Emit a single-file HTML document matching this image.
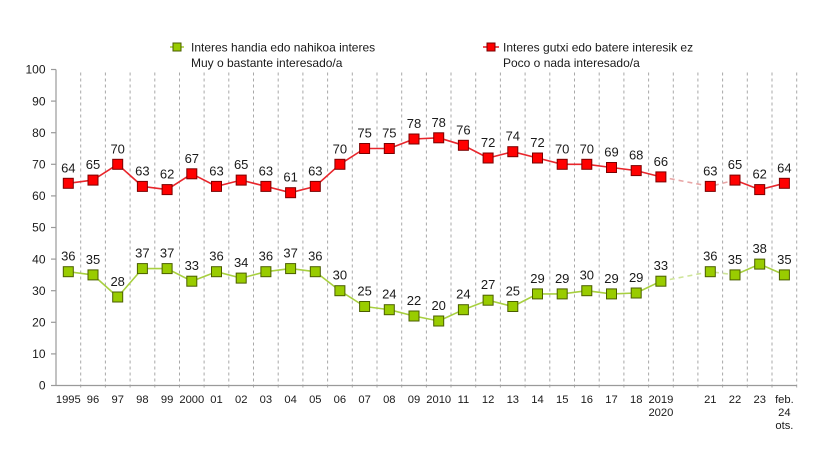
<!DOCTYPE html>
<html>
<head>
<meta charset="utf-8">
<style>
html,body{margin:0;padding:0;background:#fff;}
svg{display:block;font-family:"Liberation Sans",Arial,sans-serif;}
</style>
</head>
<body>
<svg width="839" height="464" viewBox="0 0 839 464" xmlns="http://www.w3.org/2000/svg">
<rect width="839" height="464" fill="#fff"/>

<!-- vertical dashed grid lines -->
<g stroke="#a8a8a8" stroke-width="1" stroke-dasharray="3,3">
<line x1="80.7" y1="72.5" x2="80.7" y2="390"/>
<line x1="105.4" y1="72.5" x2="105.4" y2="390"/>
<line x1="130.1" y1="72.5" x2="130.1" y2="390"/>
<line x1="154.8" y1="72.5" x2="154.8" y2="390"/>
<line x1="179.5" y1="72.5" x2="179.5" y2="390"/>
<line x1="204.1" y1="72.5" x2="204.1" y2="390"/>
<line x1="228.8" y1="72.5" x2="228.8" y2="390"/>
<line x1="253.5" y1="72.5" x2="253.5" y2="390"/>
<line x1="278.2" y1="72.5" x2="278.2" y2="390"/>
<line x1="302.9" y1="72.5" x2="302.9" y2="390"/>
<line x1="327.6" y1="72.5" x2="327.6" y2="390"/>
<line x1="352.3" y1="72.5" x2="352.3" y2="390"/>
<line x1="377.0" y1="72.5" x2="377.0" y2="390"/>
<line x1="401.7" y1="72.5" x2="401.7" y2="390"/>
<line x1="426.4" y1="72.5" x2="426.4" y2="390"/>
<line x1="451.0" y1="72.5" x2="451.0" y2="390"/>
<line x1="475.7" y1="72.5" x2="475.7" y2="390"/>
<line x1="500.4" y1="72.5" x2="500.4" y2="390"/>
<line x1="525.1" y1="72.5" x2="525.1" y2="390"/>
<line x1="549.8" y1="72.5" x2="549.8" y2="390"/>
<line x1="574.5" y1="72.5" x2="574.5" y2="390"/>
<line x1="599.2" y1="72.5" x2="599.2" y2="390"/>
<line x1="623.9" y1="72.5" x2="623.9" y2="390"/>
<line x1="648.6" y1="72.5" x2="648.6" y2="390"/>
<line x1="673.3" y1="72.5" x2="673.3" y2="390"/>
<line x1="697.9" y1="72.5" x2="697.9" y2="390"/>
<line x1="722.6" y1="72.5" x2="722.6" y2="390"/>
<line x1="747.3" y1="72.5" x2="747.3" y2="390"/>
<line x1="772.0" y1="72.5" x2="772.0" y2="390"/>
<line x1="796.7" y1="72.5" x2="796.7" y2="390"/>
</g>

<!-- axes -->
<g stroke="#9a9a9a" stroke-width="1.2" fill="none">
<line x1="56" y1="69.5" x2="56" y2="385.5"/>
<line x1="56" y1="385.5" x2="797" y2="385.5"/>
<line x1="51" y1="69.5" x2="56" y2="69.5"/>
<line x1="51" y1="101.1" x2="56" y2="101.1"/>
<line x1="51" y1="132.7" x2="56" y2="132.7"/>
<line x1="51" y1="164.3" x2="56" y2="164.3"/>
<line x1="51" y1="195.9" x2="56" y2="195.9"/>
<line x1="51" y1="227.5" x2="56" y2="227.5"/>
<line x1="51" y1="259.1" x2="56" y2="259.1"/>
<line x1="51" y1="290.7" x2="56" y2="290.7"/>
<line x1="51" y1="322.3" x2="56" y2="322.3"/>
<line x1="51" y1="353.9" x2="56" y2="353.9"/>
<line x1="51" y1="385.5" x2="56" y2="385.5"/>
</g>

<!-- y labels -->
<g font-size="12" fill="#1a1a1a" text-anchor="end">
<text x="45.5" y="73.7">100</text>
<text x="45.5" y="105.3">90</text>
<text x="45.5" y="136.9">80</text>
<text x="45.5" y="168.5">70</text>
<text x="45.5" y="200.1">60</text>
<text x="45.5" y="231.7">50</text>
<text x="45.5" y="263.3">40</text>
<text x="45.5" y="294.9">30</text>
<text x="45.5" y="326.5">20</text>
<text x="45.5" y="358.1">10</text>
<text x="45.5" y="389.7">0</text>
</g>

<!-- x labels -->
<g font-size="11.2" fill="#1a1a1a" text-anchor="middle">
<text x="68.3" y="403">1995</text>
<text x="93.0" y="403">96</text>
<text x="117.7" y="403">97</text>
<text x="142.4" y="403">98</text>
<text x="167.1" y="403">99</text>
<text x="191.8" y="403">2000</text>
<text x="216.5" y="403">01</text>
<text x="241.2" y="403">02</text>
<text x="265.9" y="403">03</text>
<text x="290.6" y="403">04</text>
<text x="315.3" y="403">05</text>
<text x="339.9" y="403">06</text>
<text x="364.6" y="403">07</text>
<text x="389.3" y="403">08</text>
<text x="414.0" y="403">09</text>
<text x="438.7" y="403">2010</text>
<text x="463.4" y="403">11</text>
<text x="488.1" y="403">12</text>
<text x="512.8" y="403">13</text>
<text x="537.5" y="403">14</text>
<text x="562.2" y="403">15</text>
<text x="586.8" y="403">16</text>
<text x="611.5" y="403">17</text>
<text x="636.2" y="403">18</text>
<text x="660.9" y="403">2019</text>
<text x="660.9" y="416">2020</text>
<text x="710.3" y="403">21</text>
<text x="735.0" y="403">22</text>
<text x="759.7" y="403">23</text>
<text x="784.4" y="403">feb.</text>
<text x="784.4" y="416">24</text>
<text x="784.4" y="429">ots.</text>
</g>

<!-- red series -->
<polyline fill="none" stroke="#e8262c" stroke-width="1.6" stroke-linejoin="round"
points="68.3,183.3 93.0,180.1 117.7,164.3 142.4,186.4 167.1,189.6 191.8,173.8 216.5,186.4 241.2,180.1 265.9,186.4 290.6,192.7 315.3,186.4 339.9,164.3 364.6,148.5 389.3,148.5 414.0,139.0 438.7,137.8 463.4,145.3 488.1,158.0 512.8,151.7 537.5,158.0 562.2,164.3 586.8,164.3 611.5,167.5 636.2,170.6 660.9,176.9"/>
<polyline fill="none" stroke="#e8a6a6" stroke-width="1.6" stroke-dasharray="5,4"
points="660.9,176.9 710.3,186.4 735.0,180.1"/>
<polyline fill="none" stroke="#e8262c" stroke-width="1.6" stroke-linejoin="round"
points="735.0,180.1 759.7,189.6 784.4,183.3"/>

<!-- green series -->
<polyline fill="none" stroke="#a8d040" stroke-width="1.6" stroke-linejoin="round"
points="68.3,271.7 93.0,274.9 117.7,297.0 142.4,268.6 167.1,268.6 191.8,281.2 216.5,271.7 241.2,278.1 265.9,271.7 290.6,268.6 315.3,271.7 339.9,290.7 364.6,306.5 389.3,309.7 414.0,316.0 438.7,321.0 463.4,309.7 488.1,300.2 512.8,306.5 537.5,293.9 562.2,293.9 586.8,290.7 611.5,293.9 636.2,293.0 660.9,281.2"/>
<polyline fill="none" stroke="#cfe59a" stroke-width="1.6" stroke-dasharray="5,4"
points="660.9,281.2 710.3,271.7 735.0,274.9"/>
<polyline fill="none" stroke="#a8d040" stroke-width="1.6" stroke-linejoin="round"
points="735.0,274.9 759.7,264.1 784.4,274.9"/>

<!-- red markers -->
<g fill="#ff0000" stroke="#7a0000" stroke-width="1">
<rect x="63.3" y="178.3" width="10" height="10"/>
<rect x="88.0" y="175.1" width="10" height="10"/>
<rect x="112.7" y="159.3" width="10" height="10"/>
<rect x="137.4" y="181.4" width="10" height="10"/>
<rect x="162.1" y="184.6" width="10" height="10"/>
<rect x="186.8" y="168.8" width="10" height="10"/>
<rect x="211.5" y="181.4" width="10" height="10"/>
<rect x="236.2" y="175.1" width="10" height="10"/>
<rect x="260.9" y="181.4" width="10" height="10"/>
<rect x="285.6" y="187.7" width="10" height="10"/>
<rect x="310.3" y="181.4" width="10" height="10"/>
<rect x="334.9" y="159.3" width="10" height="10"/>
<rect x="359.6" y="143.5" width="10" height="10"/>
<rect x="384.3" y="143.5" width="10" height="10"/>
<rect x="409.0" y="134.0" width="10" height="10"/>
<rect x="433.7" y="132.8" width="10" height="10"/>
<rect x="458.4" y="140.3" width="10" height="10"/>
<rect x="483.1" y="153.0" width="10" height="10"/>
<rect x="507.8" y="146.7" width="10" height="10"/>
<rect x="532.5" y="153.0" width="10" height="10"/>
<rect x="557.2" y="159.3" width="10" height="10"/>
<rect x="581.8" y="159.3" width="10" height="10"/>
<rect x="606.5" y="162.5" width="10" height="10"/>
<rect x="631.2" y="165.6" width="10" height="10"/>
<rect x="655.9" y="171.9" width="10" height="10"/>
<rect x="705.3" y="181.4" width="10" height="10"/>
<rect x="730.0" y="175.1" width="10" height="10"/>
<rect x="754.7" y="184.6" width="10" height="10"/>
<rect x="779.4" y="178.3" width="10" height="10"/>
</g>

<!-- green markers -->
<g fill="#99cc00" stroke="#4a5e00" stroke-width="1">
<rect x="63.3" y="266.7" width="10" height="10"/>
<rect x="88.0" y="269.9" width="10" height="10"/>
<rect x="112.7" y="292.0" width="10" height="10"/>
<rect x="137.4" y="263.6" width="10" height="10"/>
<rect x="162.1" y="263.6" width="10" height="10"/>
<rect x="186.8" y="276.2" width="10" height="10"/>
<rect x="211.5" y="266.7" width="10" height="10"/>
<rect x="236.2" y="273.1" width="10" height="10"/>
<rect x="260.9" y="266.7" width="10" height="10"/>
<rect x="285.6" y="263.6" width="10" height="10"/>
<rect x="310.3" y="266.7" width="10" height="10"/>
<rect x="334.9" y="285.7" width="10" height="10"/>
<rect x="359.6" y="301.5" width="10" height="10"/>
<rect x="384.3" y="304.7" width="10" height="10"/>
<rect x="409.0" y="311.0" width="10" height="10"/>
<rect x="433.7" y="316.0" width="10" height="10"/>
<rect x="458.4" y="304.7" width="10" height="10"/>
<rect x="483.1" y="295.2" width="10" height="10"/>
<rect x="507.8" y="301.5" width="10" height="10"/>
<rect x="532.5" y="288.9" width="10" height="10"/>
<rect x="557.2" y="288.9" width="10" height="10"/>
<rect x="581.8" y="285.7" width="10" height="10"/>
<rect x="606.5" y="288.9" width="10" height="10"/>
<rect x="631.2" y="288.0" width="10" height="10"/>
<rect x="655.9" y="276.2" width="10" height="10"/>
<rect x="705.3" y="266.7" width="10" height="10"/>
<rect x="730.0" y="269.9" width="10" height="10"/>
<rect x="754.7" y="259.1" width="10" height="10"/>
<rect x="779.4" y="269.9" width="10" height="10"/>
</g>

<!-- red data labels -->
<g font-size="13" fill="#1a1a1a" text-anchor="middle">
<text x="68.3" y="172.3">64</text>
<text x="93.0" y="169.1">65</text>
<text x="117.7" y="153.3">70</text>
<text x="142.4" y="175.4">63</text>
<text x="167.1" y="178.6">62</text>
<text x="191.8" y="162.8">67</text>
<text x="216.5" y="175.4">63</text>
<text x="241.2" y="169.1">65</text>
<text x="265.9" y="175.4">63</text>
<text x="290.6" y="181.7">61</text>
<text x="315.3" y="175.4">63</text>
<text x="339.9" y="153.3">70</text>
<text x="364.6" y="137.5">75</text>
<text x="389.3" y="137.5">75</text>
<text x="414.0" y="128.0">78</text>
<text x="438.7" y="126.8">78</text>
<text x="463.4" y="134.3">76</text>
<text x="488.1" y="147.0">72</text>
<text x="512.8" y="140.7">74</text>
<text x="537.5" y="147.0">72</text>
<text x="562.2" y="153.3">70</text>
<text x="586.8" y="153.3">70</text>
<text x="611.5" y="156.5">69</text>
<text x="636.2" y="159.6">68</text>
<text x="660.9" y="165.9">66</text>
<text x="710.3" y="175.4">63</text>
<text x="735.0" y="169.1">65</text>
<text x="759.7" y="178.6">62</text>
<text x="784.4" y="172.3">64</text>
</g>

<!-- green data labels -->
<g font-size="13" fill="#1a1a1a" text-anchor="middle">
<text x="68.3" y="260.7">36</text>
<text x="93.0" y="263.9">35</text>
<text x="117.7" y="286.0">28</text>
<text x="142.4" y="257.6">37</text>
<text x="167.1" y="257.6">37</text>
<text x="191.8" y="270.2">33</text>
<text x="216.5" y="260.7">36</text>
<text x="241.2" y="267.1">34</text>
<text x="265.9" y="260.7">36</text>
<text x="290.6" y="257.6">37</text>
<text x="315.3" y="260.7">36</text>
<text x="339.9" y="279.7">30</text>
<text x="364.6" y="295.5">25</text>
<text x="389.3" y="298.7">24</text>
<text x="414.0" y="305.0">22</text>
<text x="438.7" y="310.0">20</text>
<text x="463.4" y="298.7">24</text>
<text x="488.1" y="289.2">27</text>
<text x="512.8" y="295.5">25</text>
<text x="537.5" y="282.9">29</text>
<text x="562.2" y="282.9">29</text>
<text x="586.8" y="279.7">30</text>
<text x="611.5" y="282.9">29</text>
<text x="636.2" y="282.0">29</text>
<text x="660.9" y="270.2">33</text>
<text x="710.3" y="260.7">36</text>
<text x="735.0" y="263.9">35</text>
<text x="759.7" y="253.1">38</text>
<text x="784.4" y="263.9">35</text>
</g>

<!-- legend -->
<line x1="170" y1="47" x2="184" y2="47" stroke="#a8d040" stroke-width="1.6"/>
<rect x="173" y="43" width="8" height="8" fill="#99cc00" stroke="#4a5e00" stroke-width="1"/>
<g font-size="12" fill="#1a1a1a">
<text x="191" y="51.3">Interes handia edo nahikoa interes</text>
<text x="191" y="67">Muy o bastante interesado/a</text>
</g>
<line x1="483" y1="47" x2="499" y2="47" stroke="#e8262c" stroke-width="1.6"/>
<rect x="487" y="43" width="8" height="8" fill="#ff0000" stroke="#7a0000" stroke-width="1"/>
<g font-size="12" fill="#1a1a1a">
<text x="503" y="51.3">Interes gutxi edo batere interesik ez</text>
<text x="503" y="67">Poco o nada interesado/a</text>
</g>
</svg>
</body>
</html>
